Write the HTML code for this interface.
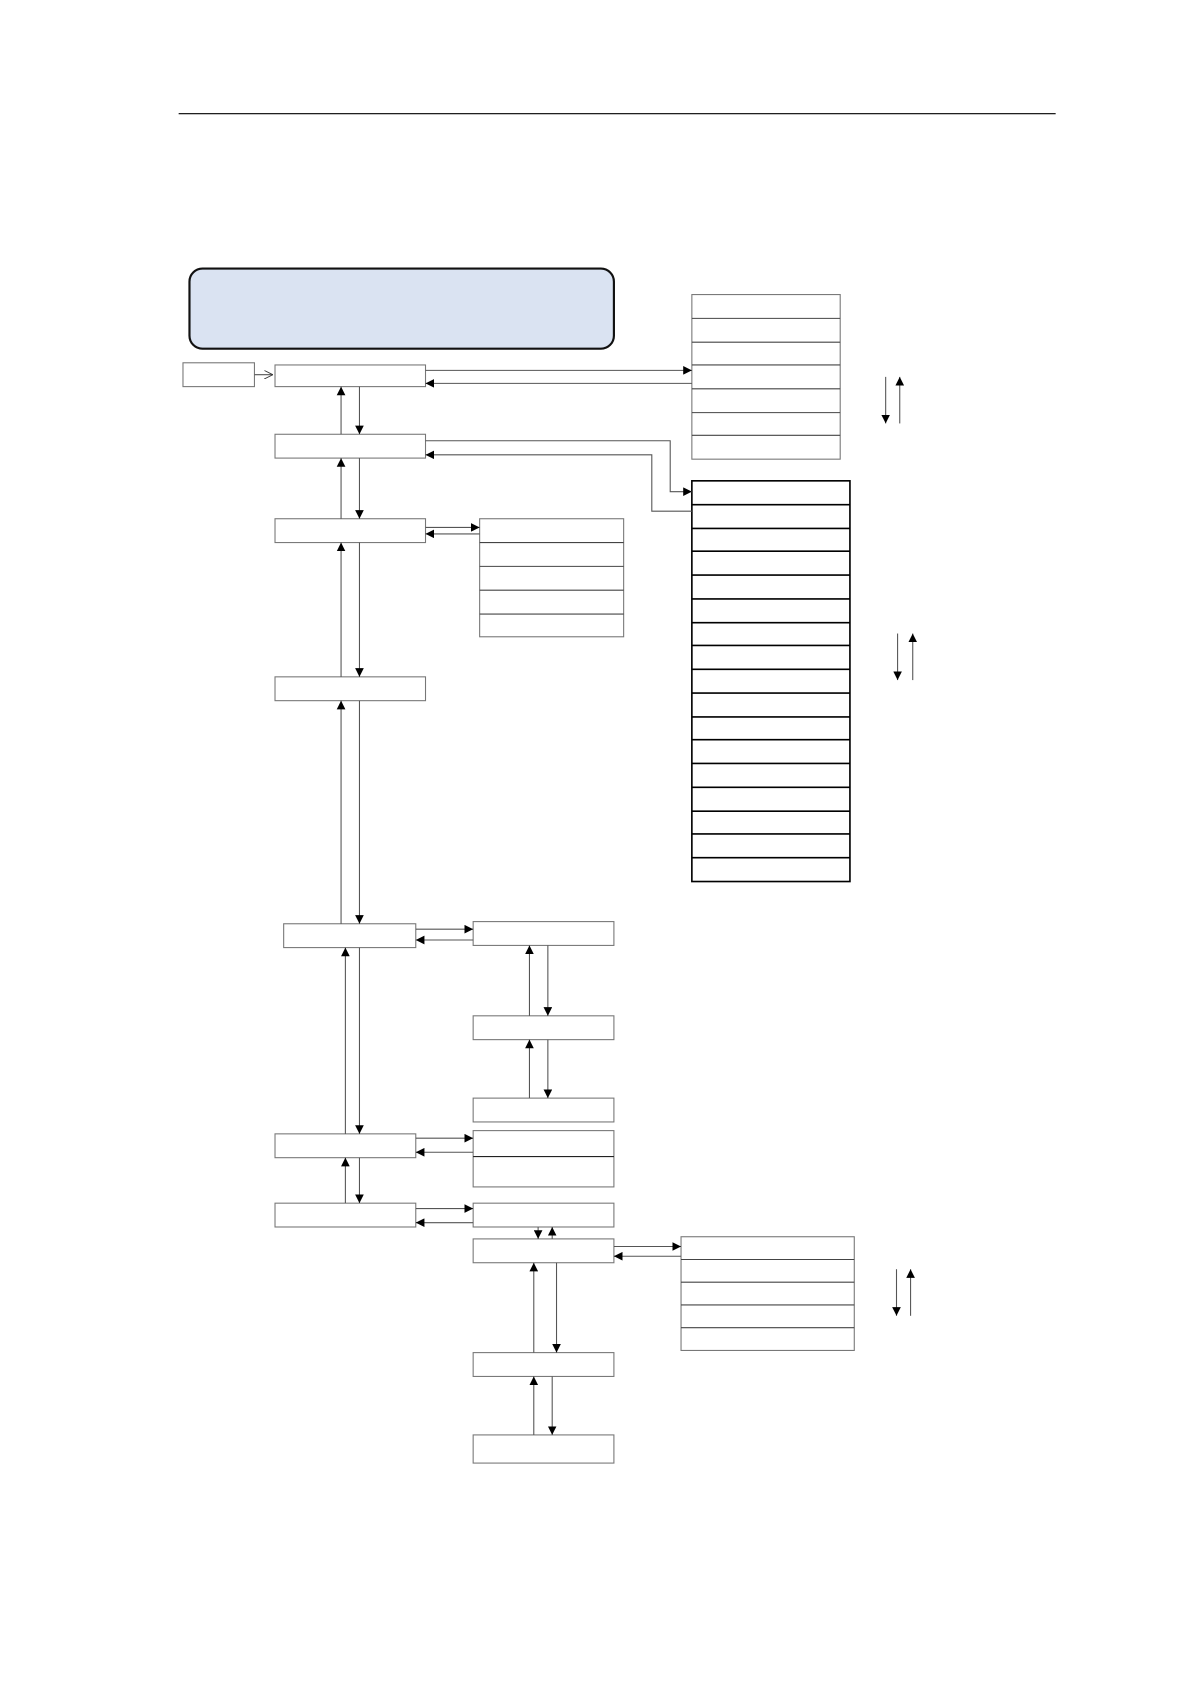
<!DOCTYPE html>
<html><head><meta charset="utf-8"><style>
html,body{margin:0;padding:0;background:#fff;}
svg{display:block;}
</style></head><body>
<svg width="1191" height="1684" viewBox="0 0 1100 1555" preserveAspectRatio="none" xmlns="http://www.w3.org/2000/svg">
<defs>
<marker id="a" viewBox="0 0 10 10" refX="10" refY="5" markerWidth="8" markerHeight="8" markerUnits="userSpaceOnUse" orient="auto">
<path d="M0,0 L10,5 L0,10 z" fill="#000"/></marker>
<marker id="o" viewBox="0 0 10 10" refX="10" refY="5" markerWidth="8" markerHeight="8" markerUnits="userSpaceOnUse" orient="auto">
<path d="M0,0 L10,5 L0,10" fill="none" stroke="#333"/></marker>
</defs>
<line x1="165" y1="105" x2="975" y2="105" stroke="#000" stroke-width="1"/>
<rect x="175" y="248" width="392" height="74" rx="12" fill="#dae3f2" stroke="#111" stroke-width="2"/>
<g fill="#fff" stroke="#777" stroke-width="1">
<rect x="169" y="335" width="66" height="22"/>
<rect x="254" y="337" width="139" height="20"/>
<rect x="254" y="401" width="139" height="22"/>
<rect x="254" y="479" width="139" height="22"/>
<rect x="254" y="625" width="139" height="22"/>
<rect x="262" y="853" width="122" height="22"/>
<rect x="254" y="1047" width="130" height="22"/>
<rect x="254" y="1111" width="130" height="22"/>
<rect x="437" y="851" width="130" height="22"/>
<rect x="437" y="938" width="130" height="22"/>
<rect x="437" y="1014" width="130" height="22"/>
<rect x="437" y="1044" width="130" height="52"/>
<rect x="437" y="1111" width="130" height="22"/>
<rect x="437" y="1144" width="130" height="22"/>
<rect x="437" y="1249" width="130" height="22"/>
<rect x="437" y="1325" width="130" height="26"/>
<rect x="443" y="479" width="133" height="109"/>
<rect x="639" y="272" width="137" height="152"/>
<rect x="629" y="1142" width="160" height="105"/>
</g>
<line x1="437" y1="1068" x2="567" y2="1068" stroke="#222"/>
<g stroke="#444">
<line x1="443" y1="501" x2="576" y2="501"/><line x1="443" y1="523" x2="576" y2="523"/>
<line x1="443" y1="545" x2="576" y2="545"/><line x1="443" y1="567" x2="576" y2="567"/>
<line x1="639" y1="294" x2="776" y2="294"/><line x1="639" y1="316" x2="776" y2="316"/>
<line x1="639" y1="337" x2="776" y2="337"/><line x1="639" y1="359" x2="776" y2="359"/>
<line x1="639" y1="381" x2="776" y2="381"/><line x1="639" y1="402" x2="776" y2="402"/>
<line x1="629" y1="1163" x2="789" y2="1163"/><line x1="629" y1="1184" x2="789" y2="1184"/>
<line x1="629" y1="1205" x2="789" y2="1205"/><line x1="629" y1="1226" x2="789" y2="1226"/>
</g>
<rect x="639" y="444" width="146" height="370" fill="#fff" stroke="#000" stroke-width="1.5"/>
<g stroke="#000" stroke-width="1.5">
<line x1="639" y1="466" x2="785" y2="466"/><line x1="639" y1="488" x2="785" y2="488"/>
<line x1="639" y1="509" x2="785" y2="509"/><line x1="639" y1="531" x2="785" y2="531"/>
<line x1="639" y1="553" x2="785" y2="553"/><line x1="639" y1="575" x2="785" y2="575"/>
<line x1="639" y1="596" x2="785" y2="596"/><line x1="639" y1="618" x2="785" y2="618"/>
<line x1="639" y1="640" x2="785" y2="640"/><line x1="639" y1="662" x2="785" y2="662"/>
<line x1="639" y1="683" x2="785" y2="683"/><line x1="639" y1="705" x2="785" y2="705"/>
<line x1="639" y1="727" x2="785" y2="727"/><line x1="639" y1="749" x2="785" y2="749"/>
<line x1="639" y1="770" x2="785" y2="770"/><line x1="639" y1="792" x2="785" y2="792"/>
</g>
<g stroke="#555" stroke-width="1" fill="none" marker-end="url(#a)">
<line x1="235" y1="346" x2="252" y2="346" marker-end="url(#o)"/>
<line x1="315" y1="401" x2="315" y2="357"/><line x1="332" y1="357" x2="332" y2="401"/>
<line x1="315" y1="479" x2="315" y2="423"/><line x1="332" y1="423" x2="332" y2="479"/>
<line x1="315" y1="625" x2="315" y2="501"/><line x1="332" y1="501" x2="332" y2="625"/>
<line x1="315" y1="853" x2="315" y2="647"/><line x1="332" y1="647" x2="332" y2="853"/>
<line x1="319" y1="1047" x2="319" y2="875"/><line x1="332" y1="875" x2="332" y2="1047"/>
<line x1="319" y1="1111" x2="319" y2="1069"/><line x1="332" y1="1069" x2="332" y2="1111"/>
<line x1="393" y1="342" x2="639" y2="342"/><line x1="639" y1="354" x2="393" y2="354"/>
<polyline points="393,407 619,407 619,454 639,454"/>
<polyline points="639,472 602,472 602,420 393,420"/>
<line x1="393" y1="487" x2="443" y2="487"/><line x1="443" y1="493" x2="393" y2="493"/>
<line x1="384" y1="858" x2="437" y2="858"/><line x1="437" y1="868" x2="384" y2="868"/>
<line x1="489" y1="938" x2="489" y2="873"/><line x1="506" y1="873" x2="506" y2="938"/>
<line x1="489" y1="1014" x2="489" y2="960"/><line x1="506" y1="960" x2="506" y2="1014"/>
<line x1="384" y1="1051" x2="437" y2="1051"/><line x1="437" y1="1064" x2="384" y2="1064"/>
<line x1="384" y1="1116" x2="437" y2="1116"/><line x1="437" y1="1129" x2="384" y2="1129"/>
<line x1="497" y1="1133" x2="497" y2="1144"/><line x1="510" y1="1144" x2="510" y2="1133"/>
<line x1="567" y1="1151" x2="629" y2="1151"/><line x1="629" y1="1160" x2="567" y2="1160"/>
<line x1="493" y1="1249" x2="493" y2="1166"/><line x1="514" y1="1166" x2="514" y2="1249"/>
<line x1="493" y1="1325" x2="493" y2="1271"/><line x1="510" y1="1271" x2="510" y2="1325"/>
<line x1="818" y1="348" x2="818" y2="391"/><line x1="831" y1="391" x2="831" y2="348"/>
<line x1="829" y1="585" x2="829" y2="628"/><line x1="843" y1="628" x2="843" y2="585"/>
<line x1="828" y1="1172" x2="828" y2="1215"/><line x1="841" y1="1215" x2="841" y2="1172"/>
</g>
</svg>
</body></html>
